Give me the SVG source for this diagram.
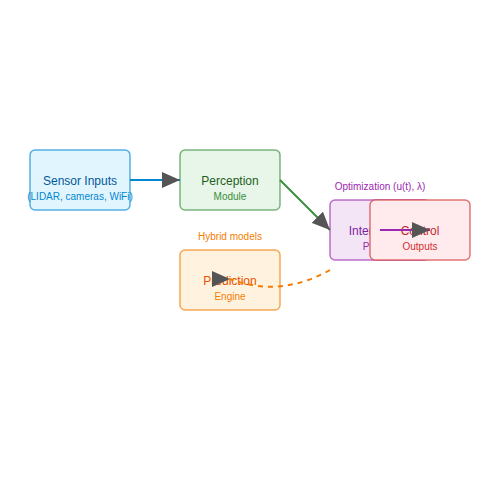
<svg xmlns="http://www.w3.org/2000/svg" width="500" height="500" viewBox="0 0 500 500">
<defs>
<style>
.node rect{stroke-width:1.5;stroke-opacity:0.65}
text{font-family:"Liberation Sans",Arial,sans-serif;text-anchor:middle}
.t{font-size:12px}
.s{font-size:10px}
.lbl{font-size:10px}
</style>
<marker id="arrA" viewBox="0 0 18 16" refX="18" refY="8" markerWidth="18" markerHeight="16" markerUnits="userSpaceOnUse" orient="auto">
<path d="M0,0 L18,8 L0,16 z" fill="#555"/>
</marker>
<marker id="arrR" viewBox="0 0 18 16" refX="18" refY="8" markerWidth="18" markerHeight="16" markerUnits="userSpaceOnUse" orient="0">
<path d="M0,0 L18,8 L0,16 z" fill="#555"/>
</marker>
</defs>
<rect width="500" height="500" fill="#ffffff"/>
<g id="sensor" class="node">
<rect x="30" y="150" width="100" height="60" rx="5" fill="#e1f5fe" stroke="#0288d1"/>
<text class="t" x="80" y="185" fill="#01579b">Sensor Inputs</text>
<text class="s" x="80" y="200" fill="#0288d1">(LIDAR, cameras, WiFi)</text>
</g>
<g id="perception" class="node">
<rect x="180" y="150" width="100" height="60" rx="5" fill="#e8f5e9" stroke="#388e3c"/>
<text class="t" x="230" y="185" fill="#1b5e20">Perception</text>
<text class="s" x="230" y="200" fill="#388e3c">Module</text>
</g>
<g id="prediction" class="node">
<rect x="180" y="250" width="100" height="60" rx="5" fill="#fff3e0" stroke="#f57c00"/>
<text class="t" x="230" y="285" fill="#e65100">Prediction</text>
<text class="s" x="230" y="300" fill="#f57c00">Engine</text>
</g>
<g id="interface" class="node">
<rect x="330" y="200" width="100" height="60" rx="5" fill="#f3e5f5" stroke="#9c27b0"/>
<text class="t" x="380" y="235" fill="#7b1fa2">Intervention</text>
<text class="s" x="380" y="250" fill="#9c27b0">Planner</text>
</g>
<g id="control" class="node">
<rect x="370" y="200" width="100" height="60" rx="5" fill="#ffebee" stroke="#d32f2f"/>
<text class="t" x="420" y="235" fill="#c62828">Control</text>
<text class="s" x="420" y="250" fill="#d32f2f">Outputs</text>
</g>
<g id="labels">
<text class="lbl" x="380" y="190" fill="#9c27b0">Optimization (u(t), λ)</text>
<text class="lbl" x="230" y="240" fill="#f57c00">Hybrid models</text>
</g>
<g id="connectors" fill="none" stroke-width="2">
<line x1="130" y1="180" x2="180" y2="180" stroke="#0288d1" marker-end="url(#arrA)"/>
<line x1="280" y1="180" x2="330" y2="230" stroke="#388e3c" marker-end="url(#arrA)"/>
<line x1="380" y1="230" x2="430" y2="230" stroke="#9c27b0" marker-end="url(#arrA)"/>
<path d="M330,270 Q280,298 230,279" stroke="#f57c00" stroke-dasharray="5,5" marker-end="url(#arrR)"/>
</g>
</svg>
